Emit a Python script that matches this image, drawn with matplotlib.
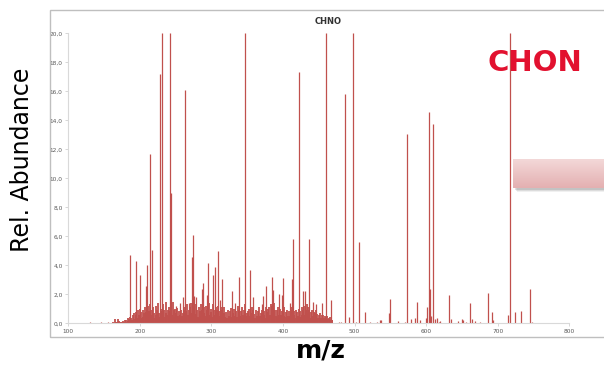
import numpy as np
import matplotlib
matplotlib.use('Agg')
import matplotlib.pyplot as plt
from matplotlib.patches import Rectangle

# ---------------- data ----------------
title = "CHNO"
x_ticks = [100, 200, 300, 400, 500, 600, 700, 800]
y_ticks = [0, 2, 4, 6, 8, 10, 12, 14, 16, 18, 20]

# tiny low-mass peaks
low_mz = [112, 116, 120, 124, 128, 131, 135, 138, 142, 146, 149, 152, 155, 157]
low_int = [0.03, 0.04, 0.03, 0.05, 0.04, 0.06, 0.03, 0.05, 0.04, 0.06, 0.03, 0.05, 0.08, 0.04]

# dense "grass" of peaks, nominal masses 160..470
grass_start = 160
grass_int = [
    0.03, 0.05, 0.04, 0.08, 0.05, 0.28, 0.10, 0.06, 0.12, 0.08,
    0.30, 0.15, 0.08, 0.10, 0.05, 0.12, 0.08, 0.15, 0.10, 0.20,
    0.10, 0.25, 0.12, 0.35, 0.15, 0.30, 0.45, 0.20, 0.40, 0.25,
    0.55, 0.25, 0.70, 0.30, 0.55, 0.80, 0.35, 0.90, 0.40, 0.60,
    1.00, 0.40, 0.75, 0.35, 0.95, 0.45, 0.70, 1.10, 0.40, 0.80,
    0.45, 1.20, 0.50, 0.85, 1.30, 0.60, 0.40, 0.95, 0.50, 1.10,
    0.70, 0.40, 1.20, 0.55, 0.90, 0.35, 1.40, 0.70, 0.45, 1.00,
    0.85, 0.40, 1.30, 0.50, 0.90, 0.45, 0.70, 1.50, 0.55, 0.90,
    1.10, 0.50, 0.85, 0.40, 1.20, 0.60, 1.50, 0.90, 0.45, 1.00,
    0.70, 0.45, 1.05, 0.50, 0.40, 0.85, 0.55, 0.35, 0.95, 0.50,
    0.70, 1.10, 0.45, 0.90, 0.40, 0.85, 1.30, 0.55, 0.90, 0.45,
    1.10, 0.60, 1.40, 0.70, 1.20, 0.50, 0.95, 0.45, 1.30, 0.65,
    0.90, 0.45, 1.10, 0.40, 0.85, 1.30, 0.50, 0.90, 0.40, 1.10,
    0.70, 0.40, 1.20, 0.50, 0.90, 0.55, 1.40, 0.60, 0.45, 1.00,
    0.75, 0.45, 1.30, 0.60, 0.95, 0.40, 1.10, 0.50, 0.90, 1.20,
    0.50, 0.85, 0.40, 1.10, 0.55, 0.90, 0.40, 0.70, 1.15, 0.45,
    0.40, 0.80, 0.35, 0.95, 0.50, 0.40, 0.85, 0.45, 1.05, 0.45,
    0.70, 0.40, 1.00, 0.50, 0.35, 0.85, 0.45, 1.20, 0.55, 0.90,
    0.50, 0.85, 0.40, 1.10, 0.60, 0.45, 0.90, 1.30, 0.50, 0.70,
    0.40, 0.85, 0.50, 1.00, 0.45, 0.70, 1.10, 0.50, 0.90, 0.40,
    0.65, 0.35, 0.90, 0.50, 0.40, 0.85, 0.45, 1.10, 0.50, 0.70,
    0.95, 0.45, 1.20, 0.55, 0.85, 0.40, 1.10, 0.50, 0.75, 1.00,
    0.50, 1.10, 0.60, 1.30, 0.80, 1.20, 0.55, 1.40, 0.70, 0.95,
    0.50, 0.90, 0.45, 1.10, 0.60, 0.40, 1.00, 0.55, 0.85, 0.40,
    0.95, 0.50, 1.10, 0.45, 0.75, 0.35, 0.95, 0.50, 0.40, 0.85,
    0.50, 1.10, 0.60, 0.90, 1.20, 0.55, 0.85, 0.40, 0.95, 0.50,
    0.75, 0.40, 1.00, 0.50, 0.85, 0.45, 1.10, 0.55, 0.90, 0.50,
    1.20, 0.60, 0.90, 1.30, 0.70, 1.10, 0.50, 0.90, 0.40, 0.75,
    0.50, 0.90, 0.40, 0.80, 0.35, 0.70, 0.90, 0.40, 0.65, 0.35,
    0.60, 0.30, 0.70, 0.40, 0.55, 0.25, 0.60, 0.35, 0.50, 0.25,
    0.45, 0.20, 0.50, 0.30, 0.40, 0.20, 0.45, 0.25, 0.20, 0.25,
    0.05,
]

# prominent peaks (m/z, relative abundance)
peak_mz = [
    186.2, 194.6, 200.2, 208.1, 209.5, 214.1, 216.5, 228.1, 230.4, 242.5,
    243.9, 250.4, 256.0, 260.6, 262.6, 268.6, 272.8, 274.4, 276.0, 278.4,
    287.0, 288.5, 293.3, 294.7, 302.5, 304.9, 309.5, 311.9, 315.0, 328.2,
    333.0, 338.8, 346.9, 353.8, 358.4, 370.1, 372.3, 376.1, 384.0, 386.3,
    394.7, 398.0, 400.3, 409.6, 412.8, 414.3, 422.8, 428.0, 430.6, 436.1,
    442.2, 445.5, 453.9, 460.3, 466.9,
    478.0, 486.9, 492.5, 497.2, 506.0, 514.0, 522.0, 535.0, 537.0, 548.0,
    549.3, 560.0, 573.0, 579.3, 585.0, 587.4, 592.0, 600.0, 601.3, 603.8,
    605.2, 607.0, 609.8, 612.0, 615.0, 620.0, 632.1, 635.0, 645.0, 650.0,
    652.0, 661.0, 664.0, 668.0, 675.0, 686.2, 691.8, 694.0, 714.0, 716.9,
    723.5, 731.9, 745.3, 748.0,
]
peak_int = [
    4.7, 4.3, 3.3, 2.6, 4.0, 11.7, 5.05, 17.2, 20.0, 20.0,
    9.0, 1.2, 1.4, 1.8, 16.1, 1.4, 4.6, 6.1, 1.85, 1.8,
    2.37, 2.76, 1.95, 4.14, 3.3, 3.86, 5.0, 1.6, 3.05, 2.25,
    1.4, 3.17, 20.0, 3.7, 1.8, 1.3, 1.9, 2.6, 3.2, 2.3,
    2.0, 1.95, 3.1, 1.4, 3.05, 5.8, 17.35, 2.2, 2.2, 5.8,
    1.5, 1.3, 1.4, 20.0, 1.6,
    0.1, 15.8, 0.45, 20.0, 5.6, 0.8, 0.1, 0.25, 0.25, 0.7,
    1.65, 0.15, 13.05, 0.3, 0.4, 1.45, 0.2, 0.35, 1.1, 14.6,
    2.35, 0.5, 13.75, 0.3, 0.4, 0.15, 1.95, 0.3, 0.15, 0.3,
    0.2, 1.4, 0.3, 0.15, 0.1, 2.1, 0.75, 0.2, 0.55, 20.0,
    0.8, 0.87, 2.35, 0.1,
]

# tiny baseline ticks in the high-mass region
tail_mz = [472, 476, 481, 484, 489, 495, 502, 510, 518, 527, 531, 543, 554, 566, 570,
           583, 596, 618, 626, 640, 656, 672, 680, 700, 705, 710, 728, 738]
tail_int = [0.05, 0.04, 0.06, 0.03, 0.05, 0.04, 0.06, 0.05, 0.04, 0.05, 0.06, 0.04,
            0.05, 0.03, 0.06, 0.05, 0.04, 0.06, 0.05, 0.04, 0.06, 0.05, 0.04, 0.03,
            0.05, 0.04, 0.05, 0.04]

# ---------------- figure ----------------
W, H = 604, 365
fig = plt.figure(figsize=(W / 100, H / 100), dpi=100)
fig.patch.set_facecolor('white')

# chart frame
fig.patches.append(Rectangle((50 / W, 1 - 337 / H), 1.0, 327 / H,
                             transform=fig.transFigure, fill=False,
                             edgecolor='#bfbfbf', linewidth=1.0, zorder=0))

ax = fig.add_axes([68.3 / W, 1 - 323.3 / H, (569.3 - 68.3) / W, (323.3 - 33.3) / H])
red = '#c0504d'
grass_mz = np.arange(grass_start, grass_start + len(grass_int))
ax.vlines(low_mz, 0, low_int, colors=red, linewidth=0.9)
ax.vlines(tail_mz, 0, tail_int, colors=red, linewidth=0.9)
ax.vlines(grass_mz, 0, grass_int, colors=red, linewidth=1.3)
ax.vlines(peak_mz, 0, peak_int, colors=red, linewidth=0.9)

ax.set_xlim(100, 800)
ax.set_ylim(0, 20)
ax.set_xticks(x_ticks)
ax.set_xticklabels([str(v) for v in x_ticks])
ax.set_yticks(y_ticks)
ax.set_yticklabels([f"{v:.1f}".replace('.', ',') for v in y_ticks])
ax.tick_params(axis='both', labelsize=4.2, colors='#d0d0d0', labelcolor='#595959',
               length=2, width=0.6, pad=2)
for s in ['top', 'right']:
    ax.spines[s].set_visible(False)
for s in ['left', 'bottom']:
    ax.spines[s].set_color('#d9d9d9')
    ax.spines[s].set_linewidth(0.8)
ax.set_facecolor('none')

fig.text(328 / W, 1 - 21 / H, title, ha='center', va='center', fontsize=6,
         fontweight='bold', color='#333333')

# axis labels
fig.text(22 / W, 1 - 160 / H, "Rel. Abundance", rotation=90, ha='center', va='center',
         fontsize=17, color='black')
fig.text(321 / W, 1 - 351 / H, "m/z", ha='center', va='center', fontsize=18,
         fontweight='bold', color='black')

# "CHON" annotation
fig.text(535 / W, 1 - 63 / H, "CHON", ha='center', va='center', fontsize=21,
         fontweight='bold', color='#e2112f')

# pink box with soft shadow
bx0, by0, bx1, by1 = 513, 159, 610, 188
for i, a in enumerate([0.07, 0.10, 0.14]):
    off = 4 - i
    fig.patches.append(Rectangle(((bx0 + off) / W, 1 - (by1 + off) / H),
                                 (bx1 - bx0) / W, (by1 - by0) / H,
                                 transform=fig.transFigure, facecolor='#303030',
                                 edgecolor='none', alpha=a, zorder=1))
gax = fig.add_axes([bx0 / W, 1 - by1 / H, (bx1 - bx0) / W, (by1 - by0) / H])
gax.set_zorder(5)
top_c = np.array([0xf3, 0xd8, 0xd8]) / 255
bot_c = np.array([0xe4, 0xb0, 0xb1]) / 255
t = np.linspace(0, 1, 64)[:, None]
grad = top_c[None, :] * (1 - t) + bot_c[None, :] * t
gax.imshow(grad[:, None, :].repeat(4, axis=1), aspect='auto', interpolation='bilinear')
gax.axis('off')

fig.savefig('out.png', dpi=100)
